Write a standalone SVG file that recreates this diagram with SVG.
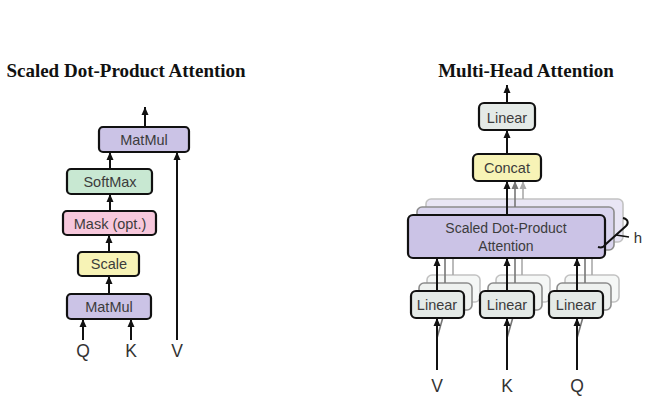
<svg xmlns="http://www.w3.org/2000/svg" width="658" height="400" viewBox="0 0 658 400">
<defs>
<marker id="ah" markerUnits="userSpaceOnUse" markerWidth="8" markerHeight="8" refX="8" refY="4" orient="auto"><path d="M0,0.5 L8,4 L0,7.5 z" fill="#111"/></marker>
<marker id="ahg" markerUnits="userSpaceOnUse" markerWidth="8" markerHeight="8" refX="8" refY="4" orient="auto"><path d="M0,0.5 L8,4 L0,7.5 z" fill="#777"/></marker>
<marker id="ahl" markerUnits="userSpaceOnUse" markerWidth="8" markerHeight="8" refX="8" refY="4" orient="auto"><path d="M0,0.5 L8,4 L0,7.5 z" fill="#aaa"/></marker>
<style>
.title{font-family:"Liberation Serif",serif;font-weight:bold;font-size:19px;fill:#111;text-anchor:middle}
.lbl{font-family:"Liberation Sans",Arial,sans-serif;font-size:14.5px;fill:#3c3c3c;text-anchor:middle}
.io{font-family:"Liberation Sans",Arial,sans-serif;font-size:17.5px;fill:#333;text-anchor:middle}
.box{stroke:#111;stroke-width:2.2}
.purple{fill:#cbc3e6}
.green{fill:#c8e8d2}
.pink{fill:#f7c8dc}
.yellow{fill:#f7f3b6}
.gray{fill:#e4eae7}
.back1{fill:#d9d4ee;stroke:#8c8c8c;stroke-width:1.6}
.back2{fill:#e9e6f5;stroke:#c2c2c2;stroke-width:1.6}
.lback1{fill:#eef1ef;stroke:#8c8c8c;stroke-width:1.6}
.lback2{fill:#f5f7f6;stroke:#c2c2c2;stroke-width:1.6}
.arr{stroke:#111;stroke-width:2;fill:none;marker-end:url(#ah)}
.garr{stroke:#777;stroke-width:1.6;fill:none}
.larr{stroke:#aaa;stroke-width:1.6;fill:none}
</style>
</defs>
<rect width="658" height="400" fill="#fff"/>

<text class="title" x="126" y="77">Scaled Dot-Product Attention</text>
<text class="title" x="526" y="77">Multi-Head Attention</text>

<!-- back layers (multi-head) -->
<g id="sdpa-back">
<rect class="back2" x="426" y="199" width="197" height="43" rx="5"/>
<rect class="back1" x="417" y="207" width="197" height="43" rx="5"/>
</g>
<g id="linear-backs">
<rect class="lback2" x="427" y="275" width="53" height="27" rx="5"/>
<rect class="lback1" x="419" y="283" width="53" height="27" rx="5"/>
<rect class="lback2" x="496" y="275" width="54" height="27" rx="5"/>
<rect class="lback1" x="488" y="283" width="54" height="27" rx="5"/>
<rect class="lback2" x="565" y="275" width="54" height="27" rx="5"/>
<rect class="lback1" x="557" y="283" width="54" height="27" rx="5"/>
</g>

<g id="connectors">
<!-- left -->
<line class="arr" x1="145" y1="127" x2="145" y2="107"/>
<line class="arr" x1="110" y1="169" x2="110" y2="152"/>
<line class="arr" x1="110" y1="211" x2="110" y2="194"/>
<line class="arr" x1="109" y1="252" x2="109" y2="235"/>
<line class="arr" x1="109" y1="294" x2="109" y2="276"/>
<line class="arr" x1="83" y1="340" x2="83" y2="319"/>
<line class="arr" x1="131" y1="340" x2="131" y2="319"/>
<line class="arr" x1="177" y1="340" x2="177" y2="152"/>
<!-- right -->
<line class="arr" x1="507" y1="103" x2="507" y2="85"/>
<line class="arr" x1="507" y1="154" x2="507" y2="130"/>
<line class="larr" x1="523" y1="199" x2="523" y2="181" marker-end="url(#ahl)"/>
<line class="garr" x1="515" y1="207" x2="515" y2="181" marker-end="url(#ahg)"/>
<line class="arr" x1="507" y1="215" x2="507" y2="181"/>
<line class="larr" x1="453" y1="275" x2="453" y2="242"/>
<line class="garr" x1="445" y1="283" x2="445" y2="250"/>
<line class="larr" x1="522" y1="275" x2="522" y2="242"/>
<line class="garr" x1="515" y1="283" x2="515" y2="250"/>
<line class="larr" x1="592" y1="275" x2="592" y2="242"/>
<line class="garr" x1="585" y1="283" x2="585" y2="250"/>
<line class="arr" x1="437" y1="291" x2="437" y2="258"/>
<line class="arr" x1="507" y1="291" x2="507" y2="258"/>
<line class="arr" x1="577" y1="291" x2="577" y2="258"/>
<line class="garr" x1="437" y1="338" x2="445" y2="310"/>
<line class="garr" x1="507" y1="338" x2="515" y2="310"/>
<line class="garr" x1="577" y1="338" x2="585" y2="310"/>
<line class="arr" x1="437" y1="370" x2="437" y2="318"/>
<line class="arr" x1="507" y1="370" x2="507" y2="318"/>
<line class="arr" x1="577" y1="370" x2="577" y2="318"/>
</g>

<!-- left nodes -->
<g id="matmul-top"><rect class="box purple" x="99" y="127" width="90" height="25" rx="4"/><text class="lbl" x="144" y="145">MatMul</text></g>
<g id="softmax"><rect class="box green" x="67" y="169" width="85" height="25" rx="4"/><text class="lbl" x="110" y="187">SoftMax</text></g>
<g id="mask"><rect class="box pink" x="63" y="211" width="93" height="24" rx="4"/><text class="lbl" x="110" y="229">Mask (opt.)</text></g>
<g id="scale"><rect class="box yellow" x="78" y="252" width="61" height="24" rx="4"/><text class="lbl" x="109" y="269">Scale</text></g>
<g id="matmul-bottom"><rect class="box purple" x="67" y="294" width="84" height="25" rx="4"/><text class="lbl" x="109" y="312">MatMul</text></g>
<g id="in-q"><text class="io" x="83" y="357">Q</text></g>
<g id="in-k"><text class="io" x="131" y="357">K</text></g>
<g id="in-v"><text class="io" x="177" y="357">V</text></g>

<!-- right nodes -->
<g id="linear-out"><rect class="box gray" x="479" y="103" width="56" height="27" rx="5"/><text class="lbl" x="507" y="123">Linear</text></g>
<g id="concat"><rect class="box yellow" x="473" y="154" width="68" height="27" rx="5"/><text class="lbl" x="507" y="173">Concat</text></g>
<g id="sdpa"><rect class="box purple" x="408" y="215" width="197" height="43" rx="5"/><text class="lbl" x="506" y="233" style="font-size:14px">Scaled Dot-Product</text><text class="lbl" x="506" y="251" style="font-size:14px">Attention</text></g>
<g id="linear-v"><rect class="box gray" x="411" y="291" width="53" height="27" rx="5"/><text class="lbl" x="437" y="310">Linear</text></g>
<g id="linear-k"><rect class="box gray" x="480" y="291" width="54" height="27" rx="5"/><text class="lbl" x="507" y="310">Linear</text></g>
<g id="linear-q"><rect class="box gray" x="549" y="291" width="54" height="27" rx="5"/><text class="lbl" x="576" y="310">Linear</text></g>
<g id="heads-h">
<path d="M623 218 C628 219 629 223 626 226 L606 244 C604 247 601 248 598 247" fill="none" stroke="#111" stroke-width="2"/>
<line x1="616" y1="235" x2="629" y2="237" stroke="#111" stroke-width="1.4"/>
<text class="io" x="638" y="243" style="font-size:15px">h</text>
</g>
<g id="in-v2"><text class="io" x="437" y="392">V</text></g>
<g id="in-k2"><text class="io" x="507" y="392">K</text></g>
<g id="in-q2"><text class="io" x="577" y="392">Q</text></g>
</svg>
